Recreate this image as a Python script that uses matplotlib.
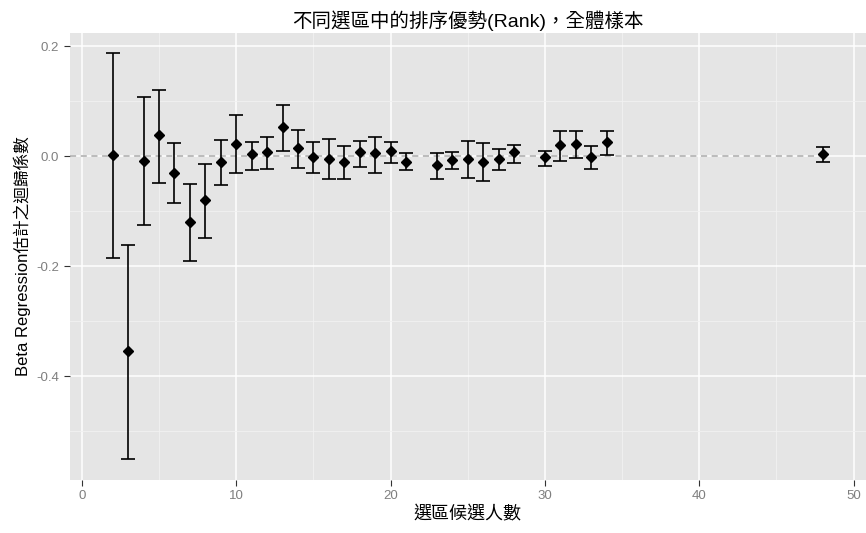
import matplotlib
matplotlib.use('Agg')
import matplotlib.pyplot as plt
import numpy as np
from matplotlib.ticker import MultipleLocator

plt.rcParams['font.family'] = ['Liberation Sans', 'Noto Sans CJK TC', 'DejaVu Sans']

# 選區候選人數 / 係數估計 / 信賴區間上下界
n_cand = [2, 3, 4, 5, 6, 7, 8, 9, 10, 11, 12, 13, 14, 15, 16, 17, 18, 19, 20, 21,
          23, 24, 25, 26, 27, 28, 30, 31, 32, 33, 34, 48]
coef = [0.002, -0.354, -0.008, 0.039, -0.030, -0.119, -0.080, -0.010, 0.023, 0.004,
        0.007, 0.053, 0.014, -0.002, -0.005, -0.010, 0.007, 0.005, 0.010, -0.010,
        -0.016, -0.007, -0.005, -0.010, -0.005, 0.007, -0.002, 0.020, 0.023, -0.002,
        0.026, 0.004]
upper = [0.187, -0.161, 0.107, 0.121, 0.024, -0.051, -0.015, 0.030, 0.074, 0.026,
         0.035, 0.093, 0.048, 0.026, 0.032, 0.018, 0.027, 0.035, 0.026, 0.005,
         0.005, 0.008, 0.027, 0.024, 0.013, 0.021, 0.010, 0.045, 0.045, 0.018,
         0.045, 0.016]
lower = [-0.186, -0.551, -0.125, -0.048, -0.086, -0.191, -0.148, -0.053, -0.031, -0.025,
         -0.023, 0.010, -0.021, -0.031, -0.042, -0.042, -0.020, -0.031, -0.012, -0.025,
         -0.042, -0.023, -0.039, -0.045, -0.025, -0.012, -0.018, -0.009, -0.004, -0.023,
         0.002, -0.011]

x = np.array(n_cand)
y = np.array(coef)
yerr = np.vstack([y - np.array(lower), np.array(upper) - y])

fig = plt.figure(figsize=(8.66, 5.33), dpi=100)
ax = fig.add_axes([69.5 / 866, (533 - 479.5) / 533, (866 - 69.5) / 866, (479.5 - 33) / 533])

ax.set_facecolor('#E5E5E5')
for s in ax.spines.values():
    s.set_visible(False)

xlim = (-0.8, 50.8)
ax.set_xlim(*xlim)
ax.set_ylim(-0.588, 0.224)
ax.xaxis.set_major_locator(MultipleLocator(10))
ax.xaxis.set_minor_locator(MultipleLocator(5))
ax.yaxis.set_major_locator(MultipleLocator(0.2))
ax.yaxis.set_minor_locator(MultipleLocator(0.1))
ax.grid(which='major', color='white', linewidth=1.1)
ax.grid(which='minor', color='#F2F2F2', linewidth=0.6)
ax.set_axisbelow(True)

ax.tick_params(which='major', colors='#333333', labelcolor='#7F7F7F',
               labelsize=9.5, length=4, width=0.8)
ax.tick_params(which='minor', length=0)
ax.set_yticks([0.2, 0.0, -0.2, -0.4])
ax.set_yticklabels(['0.2', '0.0', '-0.2', '-0.4'])

ax.hlines(0, xlim[0], 48, colors='#AAAAAA', linestyles=(0, (4, 3)), linewidth=1.1, zorder=2)

ax.errorbar(x, y, yerr=yerr, fmt='none', ecolor='black', elinewidth=1.2,
            capsize=4.7, capthick=1.2, zorder=3)
ax.plot(x, y, linestyle='none', marker='D', markersize=5.2, color='black', zorder=4)

ax.set_title('不同選區中的排序優勢(Rank)，全體樣本', fontsize=14, pad=4)
ax.set_xlabel('選區候選人數', fontsize=13, labelpad=3)
ax.set_ylabel('Beta Regression估計之迴歸係數', fontsize=12, labelpad=4)

fig.savefig('out.png', dpi=100)
plt.close(fig)
